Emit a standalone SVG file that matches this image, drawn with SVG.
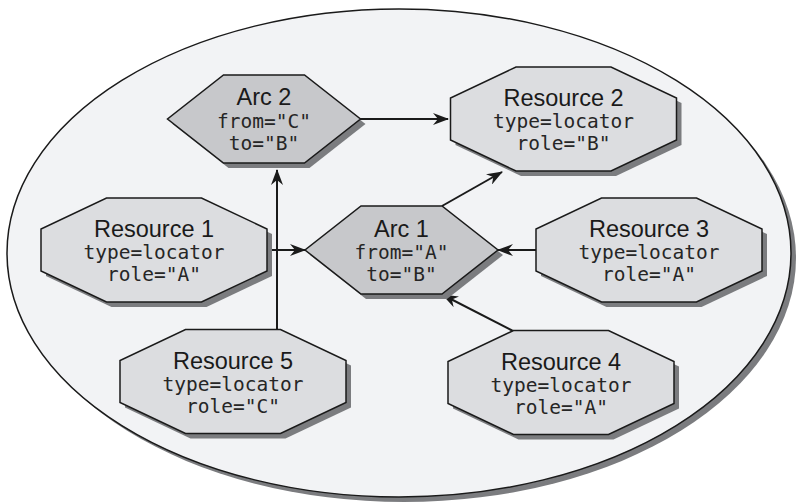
<svg xmlns="http://www.w3.org/2000/svg" width="798" height="504" viewBox="0 0 798 504">
<style>
.shadow{fill:#7b7c7f;stroke:none}
.oct{fill:#dcdde0;stroke:#1a1a1a;stroke-width:1.5}
.hex{fill:#c7c8cb;stroke:#1a1a1a;stroke-width:1.5}
.t{font-family:"Liberation Sans",Arial,sans-serif;font-size:23.5px;fill:#1a1a1a;text-anchor:middle}
.m{font-family:"DejaVu Sans Mono","Liberation Mono",monospace;font-size:19.5px;fill:#262626;text-anchor:middle}
.c{stroke:#1a1a1a;stroke-width:2;fill:none;marker-end:url(#ah)}
</style>
<defs>
<marker id="ah" viewBox="0 0 16 12" refX="15" refY="6" markerWidth="16" markerHeight="12" markerUnits="userSpaceOnUse" orient="auto">
<path d="M0,0 L16,6 L0,12 L5,6 z" fill="#1a1a1a"/>
</marker>
<polygon id="octo" points="-47.5,-52 47.5,-52 113,-21 113,21 47.5,52 -47.5,52 -113,21 -113,-21"/>
<polygon id="hexa" points="-40.5,-44 40.5,-44 96.5,0 40.5,44 -40.5,44 -96.5,0"/>
</defs>
<rect width="798" height="504" fill="#ffffff"/>
<g id="boundary">
<ellipse cx="404" cy="258" rx="392" ry="244" class="shadow"/>
<ellipse cx="399" cy="253" rx="392" ry="244" fill="#f2f3f5" stroke="#1a1a1a" stroke-width="1.5"/>
</g>
<g id="connectors">
<line x1="360" y1="119" x2="448" y2="119" class="c"/>
<line x1="442" y1="206" x2="502" y2="172" class="c"/>
<line x1="272" y1="250" x2="305" y2="250" class="c"/>
<line x1="536" y1="250" x2="498" y2="250" class="c"/>
<line x1="513" y1="331" x2="443" y2="295" class="c"/>
<line x1="277" y1="331" x2="277" y2="170" class="c"/>
</g>
<g id="arc2" transform="translate(264,119)">
<use href="#hexa" class="shadow" transform="translate(5,5)"/>
<use href="#hexa" class="hex"/>
<text class="t" x="0" y="-14">Arc 2</text>
<text class="m" x="0" y="9">from="C"</text>
<text class="m" x="0" y="31">to="B"</text>
</g>
<g id="arc1" transform="translate(401.5,250)">
<use href="#hexa" class="shadow" transform="translate(5,5)"/>
<use href="#hexa" class="hex"/>
<text class="t" x="0" y="-13">Arc 1</text>
<text class="m" x="0" y="9">from="A"</text>
<text class="m" x="0" y="31">to="B"</text>
</g>
<g id="resource1" transform="translate(154,250)">
<use href="#octo" class="shadow" transform="translate(5,5)"/>
<use href="#octo" class="oct"/>
<text class="t" x="0" y="-13">Resource 1</text>
<text class="m" x="0" y="9">type=locator</text>
<text class="m" x="0" y="31">role="A"</text>
</g>
<g id="resource2" transform="translate(563.5,119)">
<use href="#octo" class="shadow" transform="translate(5,5)"/>
<use href="#octo" class="oct"/>
<text class="t" x="0" y="-13">Resource 2</text>
<text class="m" x="0" y="9">type=locator</text>
<text class="m" x="0" y="31">role="B"</text>
</g>
<g id="resource3" transform="translate(649,250)">
<use href="#octo" class="shadow" transform="translate(5,5)"/>
<use href="#octo" class="oct"/>
<text class="t" x="0" y="-13">Resource 3</text>
<text class="m" x="0" y="9">type=locator</text>
<text class="m" x="0" y="31">role="A"</text>
</g>
<g id="resource4" transform="translate(561,382.5)">
<use href="#octo" class="shadow" transform="translate(5,5)"/>
<use href="#octo" class="oct"/>
<text class="t" x="0" y="-13">Resource 4</text>
<text class="m" x="0" y="9">type=locator</text>
<text class="m" x="0" y="31">role="A"</text>
</g>
<g id="resource5" transform="translate(233,381.5)">
<use href="#octo" class="shadow" transform="translate(5,5)"/>
<use href="#octo" class="oct"/>
<text class="t" x="0" y="-13">Resource 5</text>
<text class="m" x="0" y="9">type=locator</text>
<text class="m" x="0" y="31">role="C"</text>
</g>
</svg>
